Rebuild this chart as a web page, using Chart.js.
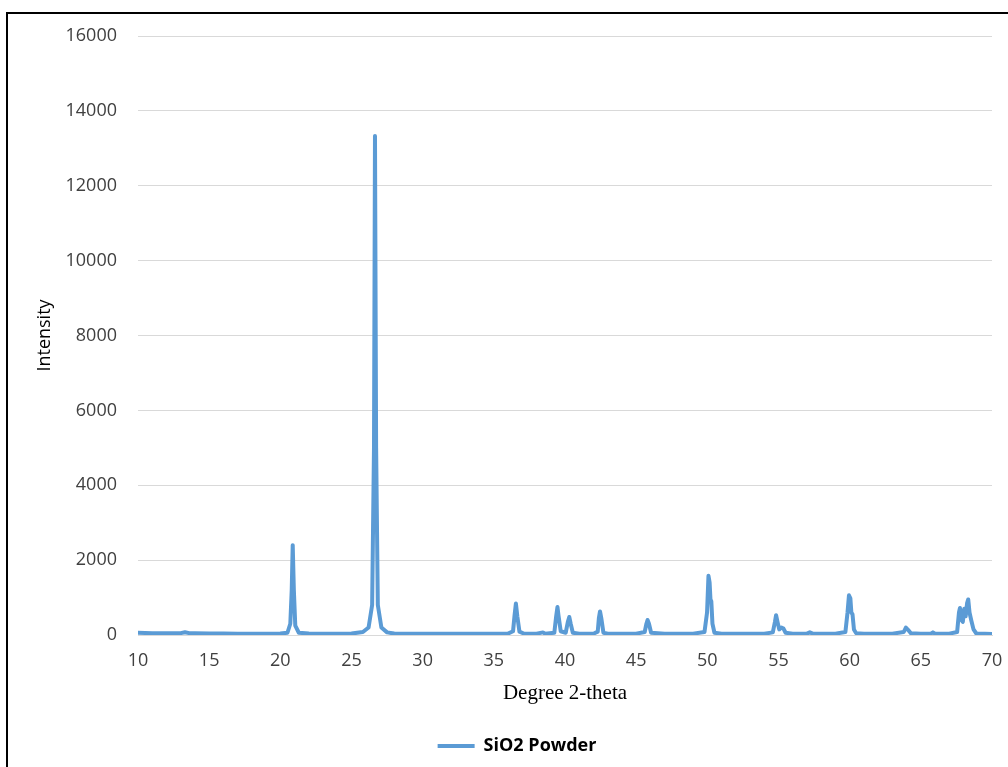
<!DOCTYPE html>
<html>
<head>
<meta charset="utf-8">
<script src="https://cdn.jsdelivr.net/npm/chart.js@4"></script>
<style>
  html, body { margin: 0; padding: 0; background: #fff; overflow: hidden; }
  #frame { position: absolute; left: 6px; top: 12px; width: 1020px; height: 800px; border: 2px solid #000; }
  #wrap { position: absolute; left: 0; top: 0; width: 1008px; height: 767px; }
</style>
</head>
<body>
<div id="frame"></div>
<div id="wrap"><canvas id="xrd" width="1008" height="767"></canvas></div>
<script>
// diffraction pattern: 2-theta and intensity
const twoTheta = [
  10.0, 10.5, 11.0, 11.5, 12.0, 12.5, 13.0, 13.3, 13.6, 14.0, 15.0, 16.0, 17.0, 18.0, 19.0, 20.0,
  20.5, 20.7, 20.8, 20.87, 20.95, 21.05, 21.3, 22.0, 23.0, 24.0, 25.0,
  25.8, 26.2, 26.45, 26.58, 26.65, 26.73, 26.85, 27.1, 27.5, 28.0, 29.0, 30.0, 31.0, 32.0, 33.0, 34.0, 35.0, 36.0,
  36.35, 36.45, 36.55, 36.65, 36.8, 37.1, 38.0, 38.45, 38.6,
  39.25, 39.38, 39.47, 39.55, 39.7, 40.05, 40.2, 40.3, 40.4, 40.55, 41.0, 42.0,
  42.3, 42.38, 42.46, 42.55, 42.7, 43.0, 44.0, 45.0,
  45.6, 45.72, 45.8, 45.9, 46.05, 47.0, 48.0, 49.0,
  49.8, 49.98, 50.08, 50.16, 50.22, 50.28, 50.36, 50.5, 51.0, 52.0, 53.0, 54.0,
  54.6, 54.75, 54.83, 54.93, 55.05, 55.2, 55.35, 55.5, 56.0, 57.0, 57.2, 57.4, 58.0, 59.0,
  59.7, 59.85, 59.95, 60.05, 60.12, 60.2, 60.3, 60.45, 61.0, 62.0, 63.0,
  63.8, 63.95, 64.1, 64.3, 65.0, 65.7, 65.85, 66.0, 67.0,
  67.55, 67.68, 67.75, 67.85, 67.95, 68.05, 68.15, 68.25, 68.33, 68.42, 68.55, 68.7, 68.9, 69.5, 70.0
];
const intensity = [
  60, 55, 50, 45, 50, 45, 50, 75, 50, 45, 40, 38, 35, 35, 35, 38,
  60, 300, 1200, 2400, 1200, 250, 60, 40, 35, 35, 38,
  80, 200, 800, 5000, 13330, 5000, 800, 200, 70, 40, 35, 35, 33, 33, 33, 33, 35, 38,
  100, 500, 840, 500, 90, 40, 35, 70, 35,
  60, 500, 750, 500, 100, 60, 350, 480, 300, 60, 35, 35,
  90, 450, 630, 450, 60, 35, 35, 35,
  80, 300, 400, 300, 60, 35, 35, 35,
  80, 600, 1580, 1400, 950, 900, 300, 60, 35, 35, 35, 35,
  70, 350, 530, 350, 150, 200, 170, 60, 35, 35, 70, 35, 35, 35,
  80, 600, 1060, 980, 600, 550, 150, 50, 35, 35, 35,
  80, 200, 140, 45, 35, 35, 70, 35, 35,
  80, 600, 720, 400, 350, 700, 500, 850, 950, 600, 380, 150, 40, 35, 30
];
const seriesName = 'SiO2 Powder';
const yTicks = [0, 2000, 4000, 6000, 8000, 10000, 12000, 14000, 16000];
const xTicks = [10, 15, 20, 25, 30, 35, 40, 45, 50, 55, 60, 65, 70];

const points = twoTheta.map((t, i) => ({ x: t, y: intensity[i] }));

// nudge the legend so it sits under the middle of the plot, like the original
const legendShift = {
  id: 'legendShift',
  afterLayout(chart) {
    if (chart.legend) {
      chart.legend.left += 21;
      chart.legend.right += 21;
    }
  }
};

new Chart(document.getElementById('xrd'), {
  type: 'scatter',
  data: {
    datasets: [{
      label: seriesName,
      data: points,
      showLine: true,
      borderColor: '#5B9BD5',
      backgroundColor: '#5B9BD5',
      borderWidth: 4,
      borderJoinStyle: 'round',
      borderCapStyle: 'round',
      pointRadius: 0,
      pointStyle: 'line',
      tension: 0
    }]
  },
  options: {
    responsive: false,
    animation: false,
    layout: { padding: { left: 0, right: 16, top: 36, bottom: 2 } },
    plugins: {
      tooltip: { enabled: false },
      legend: {
        position: 'bottom',
        labels: {
          usePointStyle: true,
          pointStyleWidth: 37,
          boxHeight: 4,
          color: '#000',
          font: { family: 'Open Sans', size: 18, weight: 'bold' },
          padding: 10
        }
      }
    },
    scales: {
      x: {
        type: 'linear',
        min: 10,
        max: 70,
        afterBuildTicks: s => { s.ticks = xTicks.map(v => ({ value: v })); },
        afterFit: s => { s.height = 92; s.paddingLeft = 0; s.paddingRight = 0; },
        grid: { display: false, drawTicks: false },
        border: { display: true, color: '#d9d9d9', width: 1 },
        ticks: { color: '#404040', font: { family: 'Open Sans', size: 18 }, padding: 15, maxRotation: 0,
                 callback: v => String(v) },
        title: {
          display: true,
          text: 'Degree 2-theta',
          color: '#000',
          font: { family: 'Liberation Serif', size: 21 },
          padding: { top: 2, bottom: 21 }
        }
      },
      y: {
        min: 0,
        max: 16000,
        afterBuildTicks: s => { s.ticks = yTicks.map(v => ({ value: v })); },
        afterFit: s => { s.width = 138; },
        grid: { color: '#d9d9d9', lineWidth: 1, drawTicks: false },
        border: { display: false },
        ticks: { color: '#404040', font: { family: 'Open Sans', size: 18 }, padding: 21,
                 callback: v => String(v) },
        title: {
          display: true,
          text: 'Intensity',
          color: '#000',
          font: { family: 'Open Sans', size: 18 },
          padding: { top: 34, bottom: 0 }
        }
      }
    }
  },
  plugins: [legendShift]
});
</script>
</body>
</html>
